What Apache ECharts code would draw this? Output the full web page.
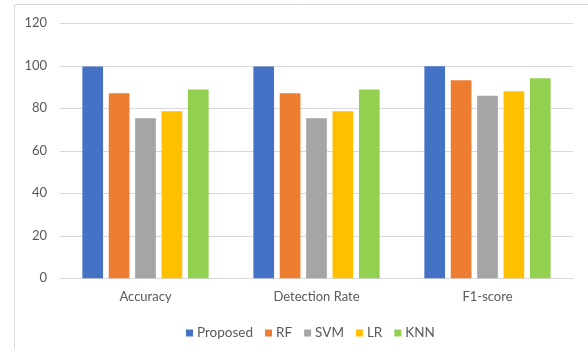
<!DOCTYPE html>
<html>
<head>
<meta charset="utf-8">
<script src="https://cdn.jsdelivr.net/npm/echarts@6/dist/echarts.min.js"></script>
<style>
  html, body { margin: 0; padding: 0; background: #fff; }
  #chart { width: 588px; height: 349px; }
</style>
</head>
<body>
<div id="chart"></div>
<script>
// categories and series
const categories = ['Accuracy', 'Detection Rate', 'F1-score']
const proposed = [99.7, 99.7, 99.8]
const rf = [87.1, 87.1, 93.2]
const svm = [75.3, 75.3, 85.9]
const lr = [78.6, 78.6, 88.0]
const knn = [88.9, 88.9, 94.1]
const seriesNames = ['Proposed', 'RF', 'SVM', 'LR', 'KNN']
const seriesColors = ['#4472C4', '#ED7D31', '#A5A5A5', '#FFC000', '#92D050']

const chart = echarts.init(document.getElementById('chart'))
const font = 'Lato, "Open Sans", sans-serif'

const makeBar = (name, data, i) => ({
  name,
  type: 'bar',
  data,
  barWidth: 20.7,
  barGap: '27.5%',
  itemStyle: { color: seriesColors[i] }
})

chart.setOption({
  animation: false,
  textStyle: { fontFamily: font },
  graphic: [{
    type: 'rect',
    shape: { x: 14.5, y: 4.5, width: 620, height: 400 },
    style: { fill: 'none', stroke: '#d9d9d9', lineWidth: 1 },
    silent: true
  }],
  grid: { left: 60, right: 15, top: 23.3, bottom: 70.7 },
  legend: {
    data: seriesNames,
    top: 321,
    left: 181,
    itemWidth: 7,
    itemHeight: 7,
    itemGap: 12,
    icon: 'rect',
    textStyle: { color: '#595959', fontSize: 13.5, fontFamily: font, padding: [0, 0, 0, -1] }
  },
  xAxis: {
    type: 'category',
    data: categories,
    axisLine: { lineStyle: { color: '#d9d9d9', width: 1 } },
    axisTick: { show: false },
    axisLabel: { color: '#595959', fontSize: 13, margin: 12 }
  },
  yAxis: {
    type: 'value',
    min: 0,
    max: 120,
    interval: 20,
    axisLine: { show: false },
    axisTick: { show: false },
    axisLabel: { color: '#595959', fontSize: 13, margin: 13 },
    splitLine: { lineStyle: { color: '#d9d9d9', width: 1 } }
  },
  series: [
    makeBar('Proposed', proposed, 0),
    makeBar('RF', rf, 1),
    makeBar('SVM', svm, 2),
    makeBar('LR', lr, 3),
    makeBar('KNN', knn, 4)
  ]
})
</script>
</body>
</html>
